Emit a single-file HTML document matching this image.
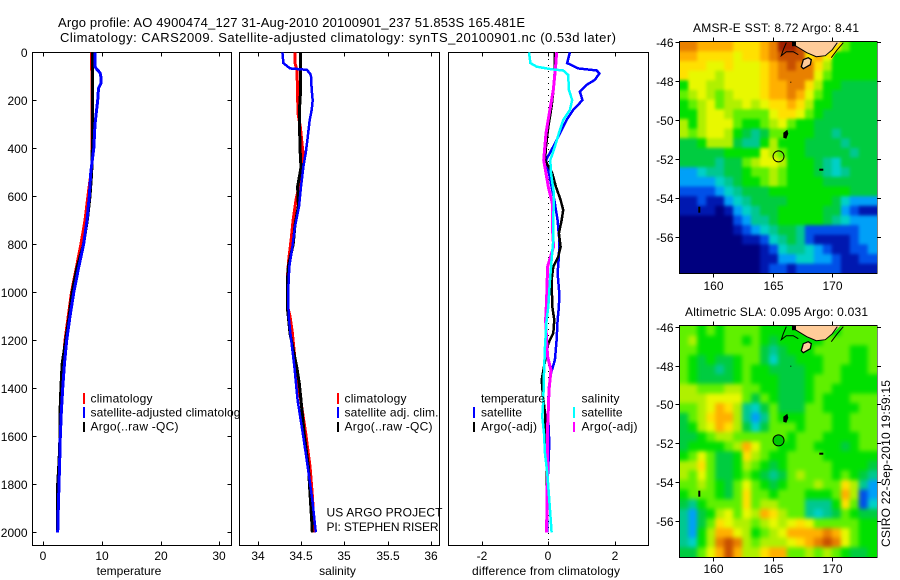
<!DOCTYPE html>
<html>
<head>
<meta charset="utf-8">
<title>Argo profile</title>
<style>
html,body{margin:0;padding:0;background:#fff;}
svg{display:block;}
text{font-family:"Liberation Sans",sans-serif;font-size:12px;fill:#000;}
.big{font-size:13px;}
.leg{font-size:12px;}
</style>
</head>
<body>
<svg id="fig" xmlns="http://www.w3.org/2000/svg" width="900" height="580" viewBox="0 0 900 580">
  <defs>
    <filter id="soft-sst" filterUnits="userSpaceOnUse" x="650" y="10" width="250" height="290" color-interpolation-filters="sRGB"><feGaussianBlur stdDeviation="1.6"/></filter>
    <filter id="soft-sla" filterUnits="userSpaceOnUse" x="650" y="295" width="250" height="285" color-interpolation-filters="sRGB"><feGaussianBlur stdDeviation="2"/></filter>
    <clipPath id="clip-sst"><rect x="680" y="42" width="197" height="231"/></clipPath>
    <clipPath id="clip-sla"><rect x="680" y="326" width="197" height="231"/></clipPath>
  </defs>
  <rect x="0" y="0" width="900" height="580" fill="#fff"/>
  <text class="big" x="58" y="27" textLength="467">Argo profile: AO 4900474_127 31-Aug-2010 20100901_237 51.853S 165.481E</text>
  <text class="big" x="60" y="42" textLength="556">Climatology: CARS2009. Satellite-adjusted climatology: synTS_20100901.nc (0.53d later)</text>

  <g id="panel-t">
    <rect x="32.5" y="52.5" width="199" height="493" fill="#fff" stroke="#000" stroke-width="1"/>
    <g id="marks-t"></g>
    <g id="ticks-t"></g>
    <text x="129" y="575" text-anchor="middle">temperature</text>
    <g>
      <rect x="83" y="393" width="2" height="11" fill="#ff0000"/>
      <rect x="83" y="407" width="2" height="11" fill="#0000ff"/>
      <rect x="83" y="422" width="2" height="10" fill="#000"/>
      <text class="leg" x="90.5" y="402.5" textLength="62">climatology</text>
      <text class="leg" x="90.5" y="416.5" textLength="156">satellite-adjusted climatology</text>
      <text class="leg" x="90.5" y="430.5" textLength="88">Argo(..raw -QC)</text>
    </g>
  </g>

  <g id="panel-s">
    <rect x="239.5" y="52.5" width="200" height="493" fill="#fff" stroke="#000" stroke-width="1"/>
    <g id="marks-s"></g>
    <g id="ticks-s"></g>
    <text x="337.5" y="575" text-anchor="middle">salinity</text>
    <g>
      <rect x="337" y="393" width="2" height="11" fill="#ff0000"/>
      <rect x="337" y="407" width="2" height="11" fill="#0000ff"/>
      <rect x="337" y="422" width="2" height="10" fill="#000"/>
      <text class="leg" x="344.5" y="402.5" textLength="62">climatology</text>
      <text class="leg" x="344.5" y="416.5" textLength="94">satellite adj. clim.</text>
      <text class="leg" x="344.5" y="430.5" textLength="88">Argo(..raw -QC)</text>
    </g>
    <text class="leg" x="326.5" y="516.5" textLength="116">US ARGO PROJECT</text>
    <text class="leg" x="326.5" y="531" textLength="112">PI: STEPHEN RISER</text>
  </g>

  <g id="panel-d">
    <rect x="448.5" y="52.5" width="200" height="493" fill="#fff" stroke="#000" stroke-width="1"/>
    <g id="marks-d"></g>
    <g id="ticks-d"></g>
    <text x="472" y="575" textLength="148">difference from climatology</text>
    <g>
      <text class="leg" x="481" y="402.5" textLength="64">temperature</text>
      <rect x="473" y="407" width="2" height="11" fill="#0000ff"/>
      <rect x="473" y="422" width="2" height="10" fill="#000"/>
      <text class="leg" x="481" y="416.5" textLength="41">satellite</text>
      <text class="leg" x="481" y="430.5" textLength="56">Argo(-adj)</text>
      <text class="leg" x="581.5" y="402.5" textLength="38">salinity</text>
      <rect x="573" y="407" width="2" height="11" fill="#00ffff"/>
      <rect x="573" y="422" width="2" height="10" fill="#ff00ff"/>
      <text class="leg" x="581.5" y="416.5" textLength="41">satellite</text>
      <text class="leg" x="581.5" y="430.5" textLength="56">Argo(-adj)</text>
    </g>
  </g>

  <g id="map-sst">
    <text x="693" y="32" textLength="166">AMSR-E SST: 8.72 Argo: 8.41</text>
    <rect x="679.5" y="41.5" width="197.5" height="232" fill="#fff" stroke="#000" stroke-width="1"/>
    <g clip-path="url(#clip-sst)">
      <g id="cells-sst" filter="url(#soft-sst)"></g>
    </g>
    <g transform="translate(679.3,41.7)">
      <polygon points="146,15 153,9 160,1 164,1 152,18" fill="#ffe000"/>
      <polygon points="114,0 116,4 127.5,11 137,15 146,14 153,8 161,0" fill="#ffcc99"/>
      <polyline points="116,4 127.5,11 137,15 146,14 153,8 158,1" fill="none" stroke="#000" stroke-width="1"/>
      <polyline points="107,1 104,8 102,14 107,10 114,10 119,13" fill="none" stroke="#000" stroke-width="1"/>
      <polyline points="152,16 158,8 164,1" fill="none" stroke="#000" stroke-width="1"/>
      <rect x="112.7" y="0" width="4" height="4.5" fill="#000"/>
      <polygon points="124,18 129,16 132,18 131,23 124,27 122,25" fill="#ffcc99" stroke="#000" stroke-width="1.3"/>
      <polygon points="108,88 109,92 107,97 104,96 104,91" fill="#000"/>
      <rect x="140" y="127" width="4" height="2" fill="#000"/>
      <rect x="19" y="165" width="2" height="6" fill="#000"/>
      <rect x="111" y="40" width="1" height="1" fill="#000"/>
    </g>
    <circle id="pin-sst" fill="none" stroke="#000" stroke-width="1" r="5.5"/>
    <g id="ticks-sst"></g>
  </g>

  <g id="map-sla">
    <text x="685" y="316" textLength="183">Altimetric SLA: 0.095 Argo: 0.031</text>
    <rect x="679.5" y="325.5" width="197.5" height="232" fill="#fff" stroke="#000" stroke-width="1"/>
    <g clip-path="url(#clip-sla)">
      <g id="cells-sla" filter="url(#soft-sla)"></g>
    </g>
    <g transform="translate(679.3,325.7)">
      <polygon points="114,0 116,4 127.5,11 137,15 146,14 153,8 161,0" fill="#ffcc99"/>
      <polyline points="116,4 127.5,11 137,15 146,14 153,8 158,1" fill="none" stroke="#000" stroke-width="1"/>
      <polyline points="107,1 104,8 102,14 107,10 114,10 119,13" fill="none" stroke="#000" stroke-width="1"/>
      <polyline points="152,16 158,8 164,1" fill="none" stroke="#000" stroke-width="1"/>
      <rect x="112.7" y="0" width="4" height="4.5" fill="#000"/>
      <polygon points="124,18 129,16 132,18 131,23 124,27 122,25" fill="#ffcc99" stroke="#000" stroke-width="1.3"/>
      <polygon points="108,88 109,92 107,97 104,96 104,91" fill="#000"/>
      <rect x="140" y="127" width="4" height="2" fill="#000"/>
      <rect x="19" y="165" width="2" height="6" fill="#000"/>
      <rect x="111" y="40" width="1" height="1" fill="#000"/>
    </g>
    <circle id="pin-sla" fill="#00c800" stroke="#000" stroke-width="1" r="5.5"/>
    <g id="ticks-sla"></g>
  </g>

  <text transform="translate(890,547) rotate(-90)" x="0" y="0" textLength="167">CSIRO 22-Sep-2010 19:59:15</text>
</svg>

<script>
// ---- Depth axis ----
const depthTicks = [0, 200, 400, 600, 800, 1000, 1200, 1400, 1600, 1800, 2000];

// ---- Temperature panel ----
const tempTicks = [0, 10, 20, 30];
const tempClimDepth = [0, 400, 470, 600, 700, 800, 900, 1000, 1200, 1400, 1600, 1800, 2000];
const tempClimValues = [8.24, 8.3, 8.3, 7.6, 7.1, 6.4, 5.6, 4.8, 3.7, 3.05, 2.85, 2.55, 2.45];
const tempArgoDepth = [0, 400, 500, 600, 700, 800, 900, 1000, 1100, 1200, 1300, 1400, 1500, 1600, 1700, 1800, 2000];
const tempArgoValues = [8.4, 8.35, 8.25, 7.95, 7.5, 6.85, 5.7, 4.9, 4.4, 3.8, 3.2, 3.0, 2.85, 2.85, 2.7, 2.45, 2.4];
const tempSatDepth = [0, 60, 70, 85, 100, 130, 150, 200, 300, 400, 500, 600, 700, 800, 900, 1000, 1100, 1200, 1300, 1400, 1500, 1600, 1700, 1800, 1900, 2000];
const tempSatValues = [8.8, 8.8, 9.1, 9.66, 9.8, 9.8, 9.4, 9.27, 8.8, 8.6, 8.1, 7.84, 7.45, 6.87, 6.0, 5.2, 4.55, 3.98, 3.6, 3.3, 3.07, 2.9, 2.8, 2.67, 2.56, 2.45];

// ---- Salinity panel ----
const salTicks = [34, 34.5, 35, 35.5, 36];
const salClimDepth = [0, 45, 74, 143, 254, 310, 420, 504, 615, 700, 782, 865, 920, 1060, 1100, 1171, 1310, 1449, 1588, 1726, 1865, 2000];
const salClimValues = [34.43, 34.43, 34.454, 34.458, 34.465, 34.492, 34.523, 34.508, 34.442, 34.408, 34.385, 34.358, 34.346, 34.346, 34.373, 34.4, 34.438, 34.496, 34.554, 34.604, 34.635, 34.646];
const salArgoDepth = [0, 150, 250, 400, 480, 560, 640, 720, 800, 890, 960, 1060, 1171, 1310, 1380, 1449, 1588, 1726, 1838, 1950, 2000];
const salArgoValues = [34.496, 34.496, 34.48, 34.488, 34.5, 34.46, 34.47, 34.43, 34.41, 34.354, 34.342, 34.342, 34.373, 34.45, 34.48, 34.5, 34.535, 34.585, 34.604, 34.623, 34.63];
const salSatDepth = [0, 45, 67, 73, 88, 100, 157, 200, 240, 282, 365, 420, 476, 560, 643, 726, 810, 893, 976, 1060, 1100, 1171, 1310, 1449, 1588, 1726, 1865, 2000];
const salSatValues = [34.285, 34.296, 34.373, 34.565, 34.604, 34.615, 34.623, 34.635, 34.623, 34.6, 34.573, 34.554, 34.527, 34.5, 34.477, 34.43, 34.4, 34.365, 34.354, 34.354, 34.358, 34.377, 34.423, 34.46, 34.52, 34.577, 34.63, 34.67];

// ---- Difference panel ----
const diffTicks = [-2, 0, 2];
const diffTempSatDepth = [0, 45, 67, 76, 88, 115, 136, 164, 199, 240, 282, 337, 393, 449, 504, 560, 615, 700, 782, 851, 920, 1004, 1060, 1115, 1199, 1282, 1337, 1393, 1449, 1532, 1629, 1726, 1865, 2000];
const diffTempSatValues = [0.65, 0.57, 0.9, 1.46, 1.54, 1.4, 1.15, 0.95, 1.03, 0.75, 0.55, 0.35, 0.15, -0.07, 0.02, 0.1, 0.18, 0.28, 0.33, 0.32, 0.28, 0.33, 0.32, 0.28, 0.25, 0.2, 0.08, 0.02, 0, 0, 0.03, 0, -0.04, -0.04];
const diffTempArgoDepth = [0, 60, 143, 226, 310, 393, 449, 504, 560, 615, 657, 700, 754, 810, 851, 893, 949, 1060, 1115, 1171, 1213, 1310, 1365, 1421, 1504, 1588, 1657, 1865, 2000];
const diffTempArgoValues = [0.2, 0.2, 0.17, 0.1, 0, -0.07, -0.1, 0.12, 0.23, 0.37, 0.45, 0.4, 0.32, 0.37, 0.3, 0.15, 0.1, 0.12, 0.18, 0.15, 0, -0.13, -0.2, -0.17, -0.1, -0.08, -0.05, -0.05, -0.05];
const diffSalSatDepth = [0, 45, 60, 71, 76, 94, 157, 199, 240, 282, 337, 393, 449, 504, 588, 700, 782, 865, 949, 1060, 1115, 1226, 1337, 1449, 1518, 1588, 1671, 1754, 1865, 2000];
const diffSalSatValues = [-0.58, -0.54, -0.35, 0.1, 0.45, 0.6, 0.62, 0.72, 0.65, 0.45, 0.32, 0.2, 0.06, 0.08, 0.17, 0.15, 0.15, 0.1, 0.05, 0, -0.05, -0.1, -0.13, -0.15, -0.18, -0.13, -0.1, -0.03, 0.03, 0.1];
const diffSalArgoDepth = [0, 60, 157, 254, 337, 449, 504, 560, 629, 726, 810, 893, 1032, 1115, 1199, 1268, 1324, 1407, 1490, 1588, 1726, 1865, 2000];
const diffSalArgoValues = [0.25, 0.22, 0.15, 0.03, -0.07, -0.14, -0.07, 0, 0.12, 0.12, 0.16, -0.02, -0.05, -0.08, -0.05, -0.02, 0.08, 0.02, 0, -0.03, -0.02, -0.04, -0.05];

// ---- Maps ----
const mapLonTicks = [160, 165, 170];
const mapLatTicks = [-46, -48, -50, -52, -54, -56];
const mapLatLabels = ['-46', '-48', '-50', '-52', '-54', '-56'];
const argoLon = 165.481;
const argoLat = -51.853;
const sstLevels = [
 [13,13,12,12,12,12,11,11,11,12,13,15,15,14,11,11,11,11,8,7,7,7],
 [12,12,11,11,11,11,10,11,11,12,13,14,14,14,11,12,10,7,7,7,7,7],
 [11,11,11,10,10,11,10,10,10,11,12,13,14,13,13,11,9,7,7,7,7,7],
 [11,10,10,10,9,10,10,10,10,11,12,13,13,13,13,10,8,7,7,7,7,7],
 [7,10,10,9,9,10,10,10,10,11,12,12,13,13,11,9,7,7,6,6,6,6],
 [8,9,10,9,8,9,10,10,10,11,12,12,13,12,10,8,7,6,6,6,6,6],
 [7,8,9,10,8,9,9,10,9,10,11,11,12,11,9,7,7,6,6,6,6,6],
 [7,7,9,10,10,9,8,8,8,8,10,11,11,10,8,7,6,6,6,6,6,6],
 [9,7,9,10,10,10,8,7,7,8,9,10,8,7,7,6,6,6,6,6,6,6],
 [9,8,9,10,10,9,7,6,5,6,8,8,7,7,7,6,6,5,6,6,6,6],
 [6,6,7,9,9,9,6,5,5,7,9,7,7,7,6,6,6,6,5,6,6,6],
 [6,6,6,6,6,7,7,7,7,10,9,8,7,7,6,6,6,6,6,5,6,6],
 [6,6,6,6,5,6,6,8,9,10,10,9,7,7,7,6,5,4,6,6,6,6],
 [3,3,4,5,5,6,6,7,8,8,9,8,7,7,7,6,5,4,5,6,6,6],
 [3,3,3,3,4,5,6,7,7,8,9,8,7,7,7,7,6,6,6,6,6,6],
 [2,2,2,2,3,4,5,6,6,6,7,7,7,7,7,7,7,7,7,6,6,6],
 [1,1,2,1,1,3,4,5,6,6,6,6,7,7,7,7,7,6,4,3,3,3],
 [1,1,1,1,0,1,3,4,5,6,6,7,7,7,7,7,6,6,3,2,1,1],
 [0,0,0,0,0,0,2,3,5,5,6,7,7,7,7,7,6,5,4,3,3,3],
 [0,0,0,0,0,0,1,2,3,4,5,6,6,5,2,2,2,2,2,2,3,3],
 [0,0,0,0,0,0,0,1,1,2,4,5,6,5,2,1,1,1,1,2,3,3],
 [0,0,0,0,0,0,0,0,0,1,2,4,5,5,4,3,2,1,1,2,2,3],
 [0,0,0,0,0,0,0,0,0,1,1,3,3,4,4,3,3,2,1,1,2,2],
 [0,0,0,0,0,0,0,0,0,1,2,2,1,2,2,2,2,2,1,1,1,1]
];
const slaLevels = [
 [8,8,7,8,7,8,8,8,8,7,7,7,7,7,7,7,7,7,8,8,8,8],
 [8,9,7,7,7,8,8,7,8,7,6,7,7,7,7,7,8,8,8,8,8,8],
 [8,8,7,7,7,8,8,8,8,6,5,6,7,7,7,8,8,8,8,7,7,8],
 [8,7,6,7,6,6,7,8,8,6,4,6,6,7,7,7,8,8,8,7,7,8],
 [8,7,6,6,5,6,7,8,7,7,6,6,6,6,7,7,8,8,7,7,7,8],
 [8,7,6,6,6,6,7,8,7,7,7,6,6,6,7,8,8,8,7,7,7,7],
 [9,9,8,8,8,9,9,8,8,7,7,6,6,6,7,8,8,7,7,7,7,7],
 [9,9,9,10,10,10,10,8,6,8,7,6,6,6,7,8,7,7,7,8,8,8],
 [8,8,9,10,12,11,9,5,4,6,8,6,6,6,8,8,7,7,7,7,8,8],
 [6,8,9,11,12,12,9,5,3,5,8,7,7,7,8,8,8,7,7,8,8,8],
 [6,7,9,10,12,11,9,6,4,6,8,8,8,7,8,8,8,7,7,8,8,8],
 [6,6,7,8,9,9,8,8,8,8,8,8,7,8,8,8,7,7,7,7,8,8],
 [6,7,7,7,7,8,9,12,10,8,8,7,7,8,8,7,7,7,6,7,8,8],
 [7,8,10,8,6,6,7,11,9,8,7,7,8,8,8,8,7,7,7,7,7,7],
 [9,9,11,8,6,6,7,9,8,7,6,7,8,8,8,8,8,7,7,7,7,6],
 [9,8,10,8,6,6,7,8,7,6,5,6,8,9,8,8,8,7,8,7,6,5],
 [8,8,9,8,7,6,8,10,8,7,6,7,8,8,8,9,8,8,11,9,5,3],
 [7,8,8,8,7,6,8,11,8,8,7,8,8,8,7,7,7,8,12,9,2,3],
 [6,5,7,8,8,8,8,11,8,9,9,8,8,8,5,5,5,7,11,8,2,4],
 [5,3,6,7,9,10,8,10,9,12,11,9,8,8,5,4,5,6,8,7,6,6],
 [5,3,6,8,11,10,9,9,8,9,10,9,10,11,10,8,8,8,8,8,7,7],
 [5,3,7,9,12,12,10,9,7,8,9,10,12,12,12,12,13,12,10,8,7,7],
 [5,4,7,9,13,14,13,9,8,9,9,9,10,11,12,13,14,13,10,8,7,7],
 [6,6,8,10,12,14,12,9,9,11,12,12,8,8,9,8,9,8,7,6,6,7]
];
const levelColors = ['#00007f','#0018b0','#0050e8','#00a0f8','#00d0c8','#00c890','#00cc40','#00e000','#60f000','#b0f000','#e8f800','#ffe000','#ffb000','#e88000','#c85000','#a02000'];

// ---- Axis functions ----
const yDepth = d => 52.3 + 0.24 * d;
const xTemp = t => 43.3 + 5.87 * t;
const xSal = s => 257.7 + 86.67 * (s - 34);
const xDiff = v => 548.3 + 33.2 * v;
const xLon = lon => 713.3 + (lon - 160) * 11.9;
const ySst = lat => 42.3 + (-46 - lat) * 19.5;
const ySla = lat => 326.7 + (-46 - lat) * 19.43;

const NS = 'http://www.w3.org/2000/svg';
const $ = id => document.getElementById(id);

function make(tag, attrs, parent, txt) {
  const n = document.createElementNS(NS, tag);
  for (const k in attrs) n.setAttribute(k, attrs[k]);
  if (txt !== undefined) n.textContent = txt;
  parent.appendChild(n);
  return n;
}

function drawLine(parent, name, depths, values, xf, color, width) {
  const pts = depths.map((d, i) => xf(values[i]).toFixed(1) + ',' + yDepth(d).toFixed(1)).join(' ');
  const line = make('polyline', {points: pts, fill: 'none', stroke: color, 'stroke-width': width, 'shape-rendering': 'crispEdges'}, parent);
  
  
}

function tickLine(parent, x1, y1, x2, y2) {
  const t = make('line', {x1: x1, y1: y1, x2: x2, y2: y2, stroke: '#000', 'stroke-width': 1, 'shape-rendering': 'crispEdges'}, parent);
  
  
}

function tickLabel(parent, x, y, anchor, str) {
  const t = make('text', {x: x, y: y, 'text-anchor': anchor}, parent, str);
  
  
}

function profileAxis(id, ticks, xf) {
  const g = $(id);
  ticks.forEach(v => {
    const x = Math.round(xf(v)) + 0.5;
    tickLine(g, x, 52.5, x, 56.5);
    tickLine(g, x, 541.5, x, 545.5);
    tickLabel(g, x - 0.5, 560, 'middle', String(v));
  });
}

function drawMap(cellsId, levels, yf) {
  const g = $(cellsId);
  const rows = levels.length;
  const cols = levels[0].length;
  const lonW = 157.14, lonE = 173.73, latN = -45.97, latS = -57.85;
  const dLon = (lonE - lonW) / cols;
  const dLat = (latN - latS) / rows;
  const pad = 14;
  levels.forEach((row, r) => {
    row.forEach((v, c) => {
      let x0 = xLon(lonW + c * dLon);
      let x1 = xLon(lonW + (c + 1) * dLon);
      let y0 = yf(latN - r * dLat);
      let y1 = yf(latN - (r + 1) * dLat);
      if (c === 0) x0 -= pad;
      if (c === cols - 1) x1 += pad;
      if (r === 0) y0 -= pad;
      if (r === rows - 1) y1 += pad;
      const cell = make('rect', {x: x0.toFixed(2), y: y0.toFixed(2), width: (x1 - x0 + 0.4).toFixed(2), height: (y1 - y0 + 0.4).toFixed(2), fill: levelColors[Math.max(0, Math.min(levelColors.length - 1, Math.round(v)))]}, g);
      
      
    });
  });
}

function mapAxis(id, yf, top, bottom, labelY) {
  const g = $(id);
  mapLonTicks.forEach(lon => {
    const x = Math.round(xLon(lon)) + 0.5;
    tickLine(g, x, top - 4, x, top);
    tickLine(g, x, bottom, x, bottom + 4);
    tickLabel(g, x, labelY, 'middle', String(lon));
  });
  mapLatTicks.forEach((lat, i) => {
    const y = Math.round(yf(lat)) + 0.5;
    tickLine(g, 675.5, y, 679.5, y);
    tickLine(g, 877, y, 881, y);
    tickLabel(g, 673.5, y + 4.5, 'end', mapLatLabels[i]);
  });
}

// ---- Draw ----
const gT = $('marks-t');
drawLine(gT, 'temperature-climatology-line', tempClimDepth, tempClimValues, xTemp, '#ff0000', 3);
drawLine(gT, 'temperature-argo-line', tempArgoDepth, tempArgoValues, xTemp, '#000000', 3);
drawLine(gT, 'temperature-satellite-line', tempSatDepth, tempSatValues, xTemp, '#0000ff', 3);

const gS = $('marks-s');
drawLine(gS, 'salinity-climatology-line', salClimDepth, salClimValues, xSal, '#ff0000', 3);
drawLine(gS, 'salinity-argo-line', salArgoDepth, salArgoValues, xSal, '#000000', 3);
drawLine(gS, 'salinity-satellite-line', salSatDepth, salSatValues, xSal, '#0000ff', 2.5);

const gD = $('marks-d');
const zeroLine = make('line', {x1: xDiff(0), y1: 53, x2: xDiff(0), y2: 545, stroke: '#000', 'stroke-width': 1, 'stroke-dasharray': '1 5', 'shape-rendering': 'crispEdges'}, gD);


drawLine(gD, 'difference-temp-satellite-line', diffTempSatDepth, diffTempSatValues, xDiff, '#0000ff', 2.5);
drawLine(gD, 'difference-temp-argo-line', diffTempArgoDepth, diffTempArgoValues, xDiff, '#000000', 2.5);
drawLine(gD, 'difference-sal-argo-line', diffSalArgoDepth, diffSalArgoValues, xDiff, '#ff00ff', 3);
drawLine(gD, 'difference-sal-satellite-line', diffSalSatDepth, diffSalSatValues, xDiff, '#00ffff', 2.5);

profileAxis('ticks-t', tempTicks, xTemp);
depthTicks.forEach(d => {
  const y = Math.round(yDepth(d)) + 0.5;
  tickLine($('ticks-t'), 32.5, y, 36.5, y);
  tickLine($('ticks-t'), 227.5, y, 231.5, y);
  tickLabel($('ticks-t'), 27.5, y + 4.5, 'end', String(d));
});
profileAxis('ticks-s', salTicks, xSal);
profileAxis('ticks-d', diffTicks, xDiff);

drawMap('cells-sst', sstLevels, ySst);
drawMap('cells-sla', slaLevels, ySla);
mapAxis('ticks-sst', ySst, 41.5, 273.5, 290);
mapAxis('ticks-sla', ySla, 325.5, 557.5, 573);

const pinA = $('pin-sst');
pinA.setAttribute('cx', xLon(argoLon));
pinA.setAttribute('cy', ySst(argoLat));
const pinB = $('pin-sla');
pinB.setAttribute('cx', xLon(argoLon));
pinB.setAttribute('cy', ySla(argoLat));
</script>
</body>
</html>
